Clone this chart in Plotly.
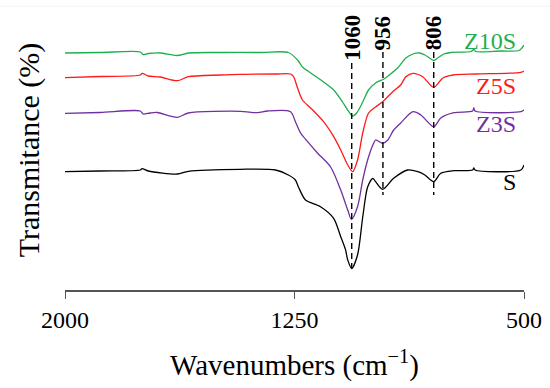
import plotly.graph_objects as go

# ---- data ----
series_names = ["S", "Z3S", "Z5S", "Z10S"]
series_colors = ["#000000", "#7030a0", "#ff1a1a", "#1fae4f"]

s_wn = [2000, 1885, 1754, 1748, 1728, 1633, 1597, 1427, 1312, 1270, 1247, 1237, 1214, 1165,
        1122, 1099, 1083, 1076, 1063, 1044, 1027, 1011, 994, 985, 962, 926, 880, 847, 824,
        795, 772, 729, 668, 664, 660, 510, 500]
s_t = [118.3, 119, 120, 121.3, 119, 116, 118.7, 120.7, 120, 115, 110, 103, 90, 83.3,
       71.7, 53.3, 40, 30, 21.5, 35, 73, 103, 111.7, 108.3, 100.7, 111.7, 120, 118.3, 115,
       108.3, 116.7, 119.3, 120, 122, 120, 120, 125]

z3s_wn = [2000, 1885, 1754, 1745, 1722, 1699, 1633, 1597, 1427, 1371, 1338, 1263, 1247, 1230,
          1207, 1175, 1132, 1099, 1076, 1064, 1044, 1027, 1011, 994, 985, 962, 945, 926, 903,
          863, 837, 795, 772, 729, 668, 664, 660, 510, 500]
z3s_t = [176.7, 177.5, 179, 176, 177, 177.5, 172.7, 177, 178.7, 177.3, 179, 178.3, 168.3, 157,
         148.3, 137, 123, 100, 80, 70.7, 83.3, 110, 130, 145, 150, 146.7, 150, 160, 167,
         178.3, 175, 163.3, 172, 177.3, 179, 182, 179, 178.3, 180]

z5s_wn = [2000, 1885, 1754, 1748, 1728, 1689, 1633, 1597, 1492, 1427, 1312, 1263, 1253, 1240,
          1224, 1197, 1155, 1122, 1099, 1076, 1060, 1044, 1027, 1008, 985, 962, 929, 903, 886,
          863, 831, 795, 765, 732, 657, 510, 500]
z5s_t = [212.3, 213.5, 215, 216.7, 214, 213, 209.3, 213.3, 215, 215.7, 216, 216, 213.3, 202,
         190, 182, 168.3, 153.3, 140, 125, 118.3, 130, 157, 177, 183, 188.3, 198.3, 205, 213.3,
         216.7, 213.3, 202.7, 212, 215, 216, 217.7, 219]

z10s_wn = [2000, 1885, 1754, 1745, 1728, 1689, 1633, 1597, 1492, 1361, 1270, 1240, 1224, 1197,
           1155, 1122, 1093, 1076, 1060, 1047, 1027, 1008, 985, 958, 936, 913, 886, 863, 843,
           824, 804, 795, 782, 762, 739, 673, 664, 657, 575, 516, 507, 500]
z10s_t = [237, 237.5, 238, 235.5, 236.5, 237, 234.5, 237, 237.5, 237.5, 237.5, 230, 223, 217,
          208, 200, 188, 180, 174, 177, 188, 200, 207, 211, 216, 222, 232, 236, 237,
          235, 231, 229.5, 232, 236, 237.5, 238.5, 240.5, 238.5, 239, 239.5, 242, 245]

series_x = [s_wn, z3s_wn, z5s_wn, z10s_wn]
series_y = [s_t, z3s_t, z5s_t, z10s_t]

peak_labels = ["1060", "956", "806"]
peak_pos = [1063, 961, 795]
x_ticks = [2000, 1250, 500]
x_tick_text = ["2000", "1250", "500"]

FONT = "Times New Roman, Liberation Serif, serif"

fig = go.Figure()
for name, col, xs, ys in zip(series_names, series_colors, series_x, series_y):
    fig.add_trace(go.Scatter(x=xs, y=ys, mode="lines", name=name,
                             line=dict(color=col, width=1.3, shape="spline", smoothing=0.8),
                             showlegend=False))

# series labels at right
label_y = {"Z10S": 249, "Z5S": 204, "Z3S": 166, "S": 108}
for name, col in zip(series_names, series_colors):
    fig.add_annotation(x=519, y=label_y[name], xref="x", yref="y", text=name,
                       showarrow=False, xanchor="right", yanchor="middle",
                       font=dict(family=FONT, size=24, color=col))

# peak guide lines + labels
line_ranges = {"1060": (227, 18), "956": (238, 95), "806": (238, 95)}
for lab, pos in zip(peak_labels, peak_pos):
    y0, y1 = line_ranges[lab]
    fig.add_shape(type="line", x0=pos, x1=pos, y0=y0, y1=y1, xref="x", yref="y",
                  line=dict(color="black", width=1.4, dash="6px,4px"))
    fig.add_annotation(x=pos, y=1.0, xref="x", yref="paper", text="<b>%s</b>" % lab,
                       showarrow=False, textangle=-90, xanchor="center", yanchor="top",
                       yshift=-3, font=dict(family=FONT, size=23, color="black"))

# faint top separator line
fig.add_shape(type="line", xref="paper", yref="paper", x0=-0.2, x1=1.1, y0=1.014, y1=1.014,
              line=dict(color="#f2f2f2", width=1))

fig.update_layout(
    width=550, height=388,
    margin=dict(l=65, r=26, t=10, b=98, autoexpand=False),
    paper_bgcolor="white", plot_bgcolor="white",
    font=dict(family=FONT, color="black"),
    xaxis=dict(range=[2000, 500], tickvals=x_ticks, ticktext=x_tick_text,
               showline=True, linecolor="#555555", linewidth=1.5,
               ticks="outside", ticklen=7, tickwidth=1.3, tickcolor="#555555",
               tickfont=dict(family=FONT, size=24, color="black"),
               showgrid=False, zeroline=False, automargin=False,
               title=dict(text="Wavenumbers (cm<sup>\u22121</sup>)",
                          font=dict(family=FONT, size=29, color="black"), standoff=23)),
    yaxis=dict(range=[0, 280], showticklabels=False, showline=False, ticks="",
               showgrid=False, zeroline=False, automargin=False,
               title=dict(text="Transmitance (%)",
                          font=dict(family=FONT, size=30, color="black"), standoff=15)),
)

fig.write_html("out.html", config={"displayModeBar": False},
               post_script="document.body.style.margin='0';document.body.style.overflow='hidden';")
